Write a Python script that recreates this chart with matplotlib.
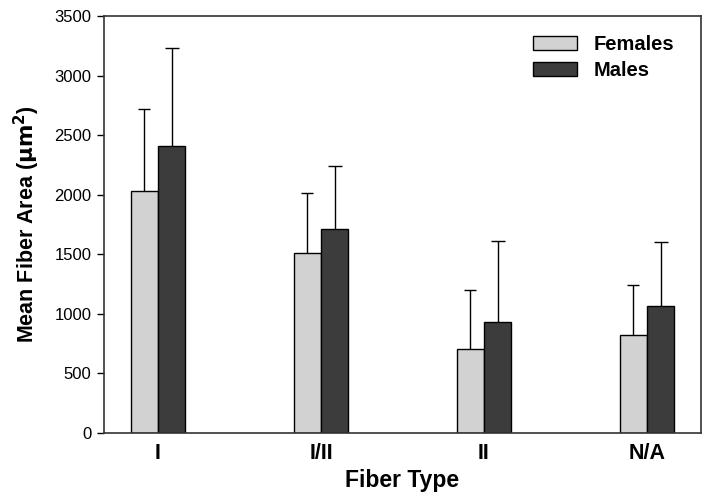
import numpy as np
import matplotlib
matplotlib.use("Agg")
import matplotlib.pyplot as plt

# data
fiber_types = ["I", "I/II", "II", "N/A"]
females = [2030, 1515, 705, 820]
males = [2405, 1715, 935, 1065]
females_sd = [690, 500, 495, 423]
males_sd = [830, 530, 675, 540]

plt.rcParams['font.family'] = ['Liberation Sans', 'DejaVu Sans']

fig = plt.figure(figsize=(7.14, 5.01), dpi=100)
ax = fig.add_axes([0.1457, 0.1357, 0.836, 0.8323])

x = np.arange(len(fiber_types))
w = 0.166

ax.bar(x - w / 2, females, w, color="#d2d2d2", edgecolor="black", linewidth=1, label="Females", zorder=2)
ax.bar(x + w / 2, males, w, color="#3c3c3c", edgecolor="black", linewidth=1, label="Males", zorder=2)

# upward error bars only (lower half hidden behind bars)
ax.errorbar(x - w / 2, females, yerr=females_sd, fmt="none", ecolor="black",
            elinewidth=1, capsize=4.5, capthick=1, zorder=1)
ax.errorbar(x + w / 2, males, yerr=males_sd, fmt="none", ecolor="black",
            elinewidth=1, capsize=5, capthick=1, zorder=1)

ax.set_xlim(-0.331, 3.331)
ax.set_ylim(0, 3500)
ax.set_yticks(np.arange(0, 3501, 500))
ax.set_xticks(x)
ax.set_xticklabels(fiber_types, fontsize=15.5, fontweight="bold")
ax.tick_params(axis="x", length=0, pad=7)
ax.tick_params(axis="y", labelsize=12, length=5, width=1, direction="out", pad=4)

for s in ax.spines.values():
    s.set_linewidth(1.2)
    s.set_color("#333333")

ax.set_xlabel("Fiber Type", fontsize=16.5, fontweight="bold", labelpad=4)
ax.set_ylabel(r"Mean Fiber Area ($\mathbf{\mu m^2}$)", fontsize=15.5, fontweight="bold", labelpad=9)

leg = ax.legend(loc="upper right", bbox_to_anchor=(0.985, 0.998), frameon=False,
                prop={"weight": "bold", "size": 14.5}, handlelength=2.2, handleheight=0.7,
                labelspacing=0.35, handletextpad=0.8)

fig.savefig("out.png", dpi=100)
